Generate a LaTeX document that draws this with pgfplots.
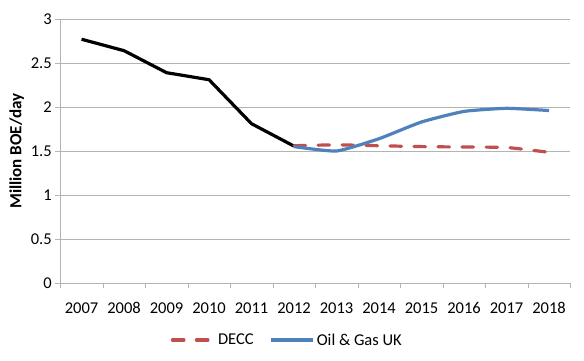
\documentclass[border=0pt]{standalone}
\usepackage{fontspec}
\setmainfont{Carlito}
\usepackage{pgfplots}
\pgfplotsset{compat=1.18}
\definecolor{dred}{HTML}{C0504D}
\definecolor{dblue}{HTML}{4F81BD}
\definecolor{gridc}{HTML}{B3B3B3}
\begin{document}
\begin{tikzpicture}[x=1pt,y=1pt]
\begin{axis}[
  name=ax,
  at={(0,0)}, anchor=south west,
  scale only axis,
  width=510pt, height=264pt,
  xmin=-0.5, xmax=11.5,
  ymin=0, ymax=3,
  ytick={0,0.5,...,3},
  xtick={0,...,11},
  xticklabels={2007,2008,2009,2010,2011,2012,2013,2014,2015,2016,2017,2018},
  minor xtick={-0.5,0.5,...,11.5},
  major x tick style={draw=none},
  minor x tick style={gridc},
  minor tick length=5pt,
  major tick length=5pt,
  tick align=outside,
  tick pos=left,
  y tick style={gridc},
  axis x line*=bottom,
  axis y line*=left,
  axis line style={gridc},
  ymajorgrids,
  grid style={gridc, line width=0.8pt},
  every axis plot/.append style={line width=3.2pt},
  tick label style={font=\fontsize{16.5}{18}\selectfont},
  yticklabel style={/pgf/number format/assume math mode=true},
  xticklabel style={anchor=base, yshift=-25pt},
  ylabel={\fontsize{17}{20}\selectfont\bfseries Million BOE/day},
  legend style={at={(0.445,-0.216)}, anchor=center, draw=none, legend columns=2,
    font=\fontsize{16.5}{18}\selectfont, /tikz/every even column/.append style={column sep=14pt}},
  legend image code/.code={\draw[#1] (0pt,0pt) -- (42pt,0pt);},
]
\addplot[black, line join=round, forget plot] coordinates {(0,2.77) (1,2.64) (2,2.39) (3,2.31) (4,1.81) (5,1.555)};
\addplot[dred, line cap=round, dash pattern=on 11.5pt off 12.5pt, smooth, tension=0.3] coordinates {(5,1.56) (6,1.57) (7,1.56) (8,1.55) (9,1.545) (10,1.54) (11,1.485)};
\addplot[dblue, smooth, tension=0.3] coordinates {(5,1.55) (6,1.50) (7,1.64) (8,1.83) (9,1.95) (10,1.985) (11,1.96)};
\legend{\fontsize{16.5}{18}\selectfont DECC, \fontsize{16.5}{18}\selectfont Oil \& Gas UK}
\end{axis}
\pgfresetboundingbox
\path[use as bounding box] (ax.south west) ++(-60.3pt,-77pt) rectangle ++(584pt,360pt);
\end{tikzpicture}
\end{document}
